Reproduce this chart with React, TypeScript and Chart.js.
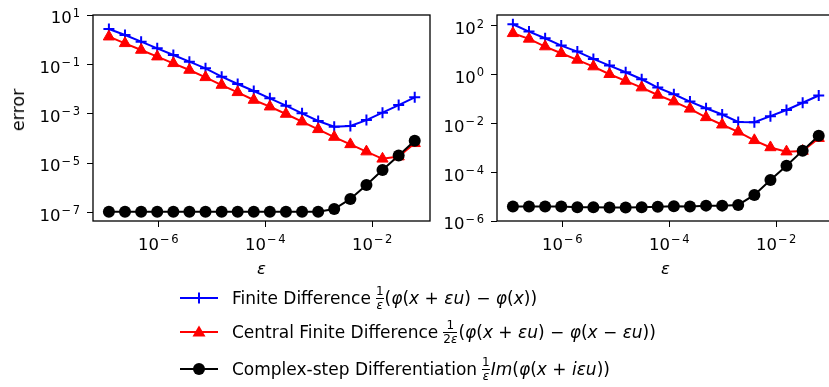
import React, { useEffect, useRef } from "react";
import { Chart, registerables } from "chart.js";

Chart.register(...registerables);

// step sizes epsilon (x values)
const epsilon = [
  1.19e-7, 2.38e-7, 4.77e-7, 9.54e-7, 1.91e-6, 3.81e-6, 7.63e-6, 1.53e-5, 3.05e-5, 6.1e-5,
  1.22e-4, 2.44e-4, 4.88e-4, 9.77e-4, 1.95e-3, 3.91e-3, 7.81e-3, 1.56e-2, 3.13e-2, 6.25e-2,
];

// left panel errors
const leftFD = [
  2.7, 1.55, 0.83, 0.446, 0.239, 0.128, 0.0689, 0.0316, 0.016, 0.0083,
  0.00419, 0.00211, 0.00103, 5.05e-4, 2.97e-4, 3.2e-4, 5.5e-4, 1.1e-3, 2.24e-3, 4.6e-3,
];
const leftCFD = [
  1.32, 0.71, 0.381, 0.205, 0.11, 0.0589, 0.0297, 0.0145, 0.00733, 0.00358,
  0.00192, 9.7e-4, 4.74e-4, 2.32e-4, 1.13e-4, 5.7e-5, 2.9e-5, 1.48e-5, 1.82e-5, 6.3e-5,
];
const leftCS = [
  1.07e-7, 1.07e-7, 1.07e-7, 1.07e-7, 1.07e-7, 1.07e-7, 1.07e-7, 1.07e-7, 1.07e-7, 1.07e-7,
  1.07e-7, 1.07e-7, 1.07e-7, 1.07e-7, 1.36e-7, 3.5e-7, 1.29e-6, 5.2e-6, 2.0e-5, 8.0e-5,
];

// right panel errors
const rightFD = [
  118, 59, 31.4, 15.7, 8.9, 4.45, 2.37, 1.26, 0.652, 0.296,
  0.158, 0.0789, 0.0421, 0.0234, 0.0115, 0.0112, 0.02, 0.0359, 0.0708, 0.141,
];
const rightCFD = [
  50, 29.5, 14.3, 7.6, 4.05, 2.16, 1.05, 0.556, 0.296, 0.148,
  0.0789, 0.0398, 0.0178, 0.0089, 0.00457, 0.00204, 0.00104, 7.0e-4, 7.4e-4, 0.0025,
];
const rightCS = [
  3.9e-6, 3.9e-6, 3.9e-6, 3.9e-6, 3.63e-6, 3.63e-6, 3.55e-6, 3.55e-6, 3.63e-6, 3.8e-6,
  4.0e-6, 3.9e-6, 4.27e-6, 4.27e-6, 4.57e-6, 1.17e-5, 4.8e-5, 1.84e-4, 7.7e-4, 3.16e-3,
];

// tick positions / axis limits
const xTicks = [1e-6, 1e-4, 1e-2];
const leftYTicks = [1e1, 1e-1, 1e-3, 1e-5, 1e-7];
const rightYTicks = [1e2, 1e0, 1e-2, 1e-4, 1e-6];
const xLimits = [6.17e-8, 0.1207];
const leftYLimits = [4.47e-8, 10];
const rightYLimits = [1e-6, 282];

const FONT = '"DejaVu Sans", sans-serif';
const TICK_FS = 16.5;
const EXP_FS = 11.5;
const LABEL_FS = 17.5;
const LEGEND_FS = 17;

const SUP: Record<string, string> = {
  "-": "\u207B", "0": "\u2070", "1": "\u00B9", "2": "\u00B2", "3": "\u00B3",
  "4": "\u2074", "5": "\u2075", "6": "\u2076", "7": "\u2077", "8": "\u2078", "9": "\u2079",
};
function pow10Label(v: number): string {
  const e = Math.round(Math.log10(v));
  return "10" + String(e).split("").map((c) => SUP[c]).join("");
}

// draws the 10^n tick labels as base + raised exponent (like mathtext)
function drawPow10(ctx: CanvasRenderingContext2D, v: number, anchorX: number, baseline: number, align: "center" | "right") {
  const e = Math.round(Math.log10(v));
  const neg = e < 0;
  const digits = String(Math.abs(e));
  ctx.font = `${TICK_FS}px ${FONT}`;
  const wb = ctx.measureText("10").width;
  ctx.font = `${EXP_FS}px ${FONT}`;
  const wm = neg ? ctx.measureText("\u2212").width + 1.5 : 0;
  const wd = ctx.measureText(digits).width;
  const gap = 1;
  const total = wb + gap + wm + wd;
  let x = align === "center" ? anchorX - total / 2 : anchorX - total;
  ctx.textAlign = "left";
  ctx.textBaseline = "alphabetic";
  ctx.fillStyle = "#000";
  ctx.font = `${TICK_FS}px ${FONT}`;
  ctx.fillText("10", x, baseline);
  x += wb + gap;
  ctx.font = `${EXP_FS}px ${FONT}`;
  const eb = baseline - 6.6;
  if (neg) {
    ctx.fillText("\u2212", x, eb);
    x += wm;
  }
  ctx.fillText(digits, x, eb);
}

const boxPlugin = {
  id: "boxFrame",
  afterDatasetsDraw(chart: any) {
    const { ctx, chartArea } = chart;
    ctx.save();
    ctx.strokeStyle = "#000";
    ctx.lineWidth = 1.3;
    ctx.strokeRect(chartArea.left, chartArea.top, chartArea.right - chartArea.left, chartArea.bottom - chartArea.top);
    ctx.restore();
  },
};

const pow10TickPlugin = {
  id: "pow10Ticks",
  afterDraw(chart: any) {
    const { ctx, chartArea } = chart;
    ctx.save();
    const xs = chart.scales.x;
    xs.ticks.forEach((t: any) => {
      drawPow10(ctx, t.value, xs.getPixelForValue(t.value), chartArea.bottom + 29, "center");
    });
    const ys = chart.scales.y;
    ys.ticks.forEach((t: any) => {
      drawPow10(ctx, t.value, chartArea.left - 13, ys.getPixelForValue(t.value) + 8.3, "right");
    });
    ctx.restore();
  },
};

function makeDatasets(fd: number[], cfd: number[], cs: number[]) {
  const pts = (arr: number[]) => epsilon.map((x, i) => ({ x, y: arr[i] }));
  return [
    {
      label: "Finite Difference",
      data: pts(fd),
      borderColor: "#0000ff",
      backgroundColor: "#0000ff",
      borderWidth: 2,
      pointStyle: "cross",
      pointRadius: 5.5,
      pointBorderWidth: 2,
      pointBorderColor: "#0000ff",
      order: 3,
    },
    {
      label: "Central Finite Difference",
      data: pts(cfd),
      borderColor: "#ff0000",
      backgroundColor: "#ff0000",
      borderWidth: 2,
      pointStyle: "triangle",
      pointRadius: 6.5,
      pointBorderWidth: 1,
      pointBorderColor: "#ff0000",
      pointBackgroundColor: "#ff0000",
      order: 2,
    },
    {
      label: "Complex-step Differentiation",
      data: pts(cs),
      borderColor: "#000000",
      backgroundColor: "#000000",
      borderWidth: 2,
      pointStyle: "circle",
      pointRadius: 6,
      pointBorderWidth: 0,
      pointBackgroundColor: "#000000",
      order: 1,
    },
  ];
}

type PanelProps = {
  fd: number[];
  cfd: number[];
  cs: number[];
  yTicks: number[];
  yLimits: number[];
  yWidth: number;
  left: number;
  width: number;
};

function Panel({ fd, cfd, cs, yTicks, yLimits, yWidth, left, width }: PanelProps) {
  const ref = useRef<HTMLCanvasElement | null>(null);
  useEffect(() => {
    if (!ref.current) return;
    const chart = new Chart(ref.current, {
      type: "line",
      data: { datasets: makeDatasets(fd, cfd, cs) as any },
      options: {
        animation: false,
        responsive: false,
        maintainAspectRatio: false,
        layout: { padding: { top: 15, right: 10, left: 0, bottom: 0 } },
        plugins: { legend: { display: false }, tooltip: { enabled: false } },
        elements: { line: { tension: 0 } },
        scales: {
          x: {
            type: "logarithmic",
            position: "bottom",
            min: xLimits[0],
            max: xLimits[1],
            grid: { drawOnChartArea: false, drawTicks: true, tickLength: 6, color: "#000", lineWidth: 1 },
            border: { display: false },
            ticks: {
              display: false,
              autoSkip: false,
              callback: (v: any) => pow10Label(Number(v)),
            },
            title: {
              display: true,
              text: "\u03B5",
              color: "#000",
              font: { family: FONT, size: 16.5, style: "italic" },
              padding: { top: 0, bottom: 10.5 },
            },
            afterBuildTicks: (s: any) => {
              s.ticks = xTicks.map((value) => ({ value }));
            },
            afterFit: (s: any) => {
              s.height = 69;
              s.paddingLeft = 0;
              s.paddingRight = 0;
            },
          } as any,
          y: {
            type: "logarithmic",
            position: "left",
            min: yLimits[0],
            max: yLimits[1],
            grid: { drawOnChartArea: false, drawTicks: true, tickLength: 6, color: "#000", lineWidth: 1 },
            border: { display: false },
            ticks: {
              display: false,
              autoSkip: false,
              callback: (v: any) => pow10Label(Number(v)),
            },
            afterBuildTicks: (s: any) => {
              s.ticks = yTicks.map((value) => ({ value }));
            },
            afterFit: (s: any) => {
              s.width = yWidth;
              s.paddingTop = 0;
              s.paddingBottom = 0;
            },
          } as any,
        },
      },
      plugins: [boxPlugin, pow10TickPlugin],
    });
    return () => chart.destroy();
  }, []);
  return (
    <canvas
      ref={ref}
      width={width}
      height={290}
      style={{ position: "absolute", left, top: 0, width, height: 290 }}
    />
  );
}

function Frac({ num, den }: { num: string; den: string }) {
  return (
    <span
      style={{
        display: "inline-flex",
        flexDirection: "column",
        alignItems: "center",
        verticalAlign: "middle",
        fontSize: "12px",
        lineHeight: "11px",
        margin: "0 1px 0 5px",
      }}
    >
      <span style={{ borderBottom: "1px solid #000", width: "100%", textAlign: "center", paddingBottom: 1 }}>{num}</span>
      <span style={{ paddingTop: 1 }}>
        {den.split("").map((c, i) => (
          <span key={i} style={{ fontStyle: c === "\u03B5" ? "italic" : "normal" }}>{c}</span>
        ))}
      </span>
    </span>
  );
}

const I = ({ children }: { children: React.ReactNode }) => <span style={{ fontStyle: "italic" }}>{children}</span>;

function Marker({ kind, color }: { kind: string; color: string }) {
  return (
    <svg width={38} height={20} style={{ display: "block", flex: "none" }}>
      <line x1={0} y1={10} x2={38} y2={10} stroke={color} strokeWidth={2} />
      {kind === "cross" && (
        <g stroke={color} strokeWidth={2}>
          <line x1={19} y1={4.5} x2={19} y2={15.5} />
          <line x1={13.5} y1={10} x2={24.5} y2={10} />
        </g>
      )}
      {kind === "triangle" && <polygon points="19,3.5 25.5,14.5 12.5,14.5" fill={color} />}
      {kind === "circle" && <circle cx={19} cy={10} r={6} fill={color} />}
    </svg>
  );
}

function LegendRow({ cy, kind, color, children }: { cy: number; kind: string; color: string; children: React.ReactNode }) {
  return (
    <div
      style={{
        position: "absolute",
        left: 180,
        top: cy - 15,
        height: 30,
        display: "flex",
        alignItems: "center",
        whiteSpace: "nowrap",
        fontFamily: FONT,
        fontSize: LEGEND_FS,
        color: "#000",
      }}
    >
      <Marker kind={kind} color={color} />
      <span style={{ marginLeft: 14, lineHeight: "20px" }}>{children}</span>
    </div>
  );
}

export default function App() {
  return (
    <div
      style={{
        position: "fixed",
        left: 0,
        top: 0,
        width: 829,
        height: 387,
        overflow: "hidden",
        background: "#fff",
      }}
    >
      <Panel fd={leftFD} cfd={leftCFD} cs={leftCS} yTicks={leftYTicks} yLimits={leftYLimits} yWidth={93} left={0} width={440} />
      <Panel fd={rightFD} cfd={rightCFD} cs={rightCS} yTicks={rightYTicks} yLimits={rightYLimits} yWidth={60} left={437} width={407} />
      <div
        style={{
          position: "absolute",
          left: 17.7,
          top: 110,
          transform: "translate(-50%, -50%) rotate(-90deg)",
          fontFamily: FONT,
          fontSize: LABEL_FS,
          lineHeight: "20px",
          whiteSpace: "nowrap",
          color: "#000",
        }}
      >
        error
      </div>
      <LegendRow cy={298} kind="cross" color="#0000ff">
        Finite Difference<Frac num="1" den={"\u03B5"} />(<I>φ</I>(<I>x</I> + <I>εu</I>) − <I>φ</I>(<I>x</I>))
      </LegendRow>
      <LegendRow cy={332} kind="triangle" color="#ff0000">
        Central Finite Difference<Frac num="1" den={"2\u03B5"} />(<I>φ</I>(<I>x</I> + <I>εu</I>) − <I>φ</I>(<I>x</I> − <I>εu</I>))
      </LegendRow>
      <LegendRow cy={369} kind="circle" color="#000000">
        Complex-step Differentiation<Frac num="1" den={"\u03B5"} /><I>Im</I>(<I>φ</I>(<I>x</I> + <I>iεu</I>))
      </LegendRow>
    </div>
  );
}
